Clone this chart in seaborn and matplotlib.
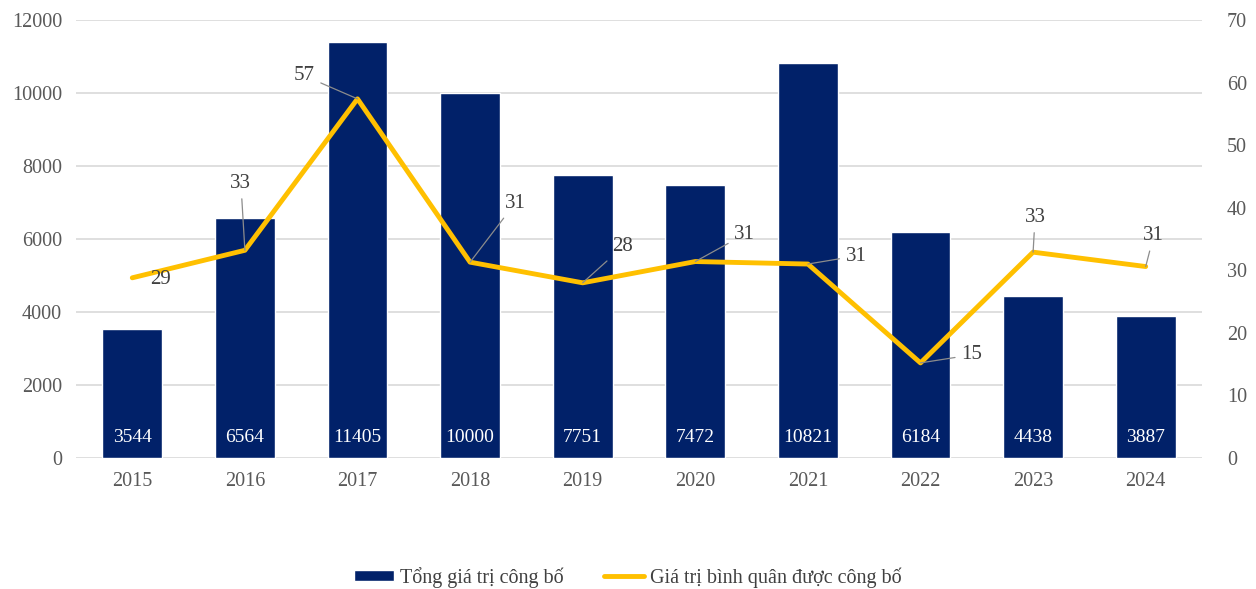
import numpy as np
import pandas as pd
import matplotlib
matplotlib.use("Agg")
import matplotlib.pyplot as plt
import seaborn as sns

# datos
years = ["2015", "2016", "2017", "2018", "2019", "2020", "2021", "2022", "2023", "2024"]
total_value = [3544, 6564, 11405, 10000, 7751, 7472, 10821, 6184, 4438, 3887]
avg_value = [28.8, 33.2, 57.4, 31.3, 28.0, 31.4, 31.0, 15.2, 32.9, 30.6]
bar_name = "Tổng giá trị công bố"
line_name = "Giá trị bình quân được công bố"

# desplazamiento de las etiquetas de la linea (pixeles)
label_offsets = [(28, -2), (-4, 67), (-53, 23), (45, 59), (40, 36),
                 (49, 27), (48, 8), (51, 8), (2, 35), (8, 31)]

NAVY = "#012169"
GOLD = "#FFC000"
GREY = "#595959"

sns.set_theme(style="white")
plt.rcParams["font.family"] = ["Liberation Serif", "DejaVu Serif"]

df = pd.DataFrame({"year": years, "total": total_value, "avg": avg_value})

fig = plt.figure(figsize=(12.56, 5.89), dpi=100)
ax = fig.add_axes([0.0605, 0.2224, 0.8965, 0.7436])

sns.barplot(data=df, x="year", y="total", color=NAVY, width=0.53, saturation=1,
            ax=ax, label=bar_name, zorder=2)
if ax.get_legend() is not None:
    ax.get_legend().remove()
ax.set_ylim(0, 12000)
ax.set_yticks(np.arange(0, 12001, 2000))
ax.set_xlim(-0.5, len(years) - 0.5)
ax.grid(axis="y", color="#D9D9D9", linewidth=1.2, zorder=0)
ax.set_axisbelow(True)
for s in ax.spines.values():
    s.set_visible(False)
ax.set_xlabel("")
ax.set_ylabel("")
ax.tick_params(axis="both", length=0, labelsize=14.5, colors=GREY, pad=10)

# valores dentro de las barras
for i, v in enumerate(total_value):
    ax.annotate(str(v), xy=(i, 0), xytext=(0, 21), textcoords="offset pixels",
                ha="center", va="center", color="white", fontsize=14)

ax2 = ax.twinx()
sns.lineplot(x=np.arange(len(years)), y=avg_value, ax=ax2, color=GOLD,
             linewidth=3.5, label=line_name, legend=False)
ax2.set_ylim(0, 70)
ax2.set_yticks(np.arange(0, 71, 10))
ax2.set_xlim(-0.5, len(years) - 0.5)
for s in ax2.spines.values():
    s.set_visible(False)
ax2.set_ylabel("")
ax2.tick_params(axis="y", length=0, labelsize=14.5, colors=GREY, pad=18)
ax2.grid(False)

for i, (v, off) in enumerate(zip(avg_value, label_offsets)):
    props = None
    if i != 0:
        props = dict(arrowstyle="-", color="#8C8C8C", linewidth=0.9,
                     shrinkA=2, shrinkB=0)
    ax2.annotate(f"{v:.0f}", xy=(i, v), xytext=off, textcoords="offset pixels",
                 ha="center", va="center", color="#404040", fontsize=15,
                 arrowprops=props)

h1, l1 = ax.get_legend_handles_labels()
h2, l2 = ax2.get_legend_handles_labels()
fig.legend(h1 + h2, l1 + l2, loc="center", bbox_to_anchor=(0.5, 0.02), ncol=2,
           frameon=False, fontsize=14.5, columnspacing=2.0, handlelength=2.0,
           handleheight=0.5, handletextpad=0.3, labelcolor="#404040")

fig.savefig("out.png", dpi=100)
